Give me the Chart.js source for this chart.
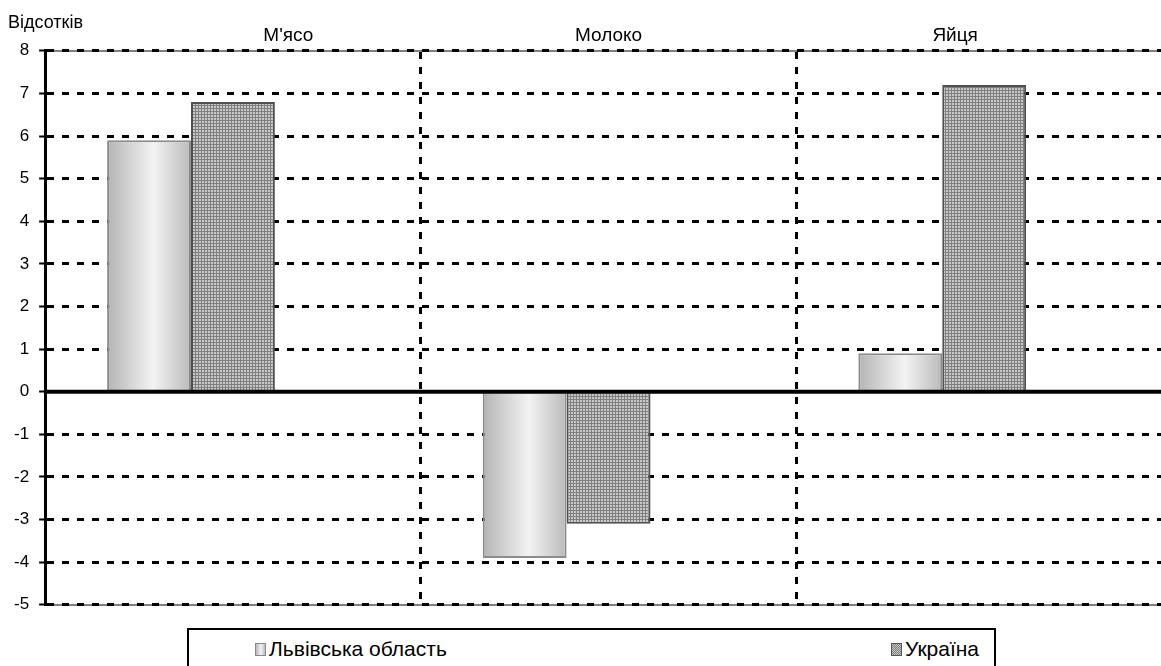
<!DOCTYPE html>
<html>
<head>
<meta charset="utf-8">
<script src="https://cdn.jsdelivr.net/npm/chart.js@4.4.0/dist/chart.umd.min.js"></script>
<style>
  body { margin: 0; overflow: hidden; background: #fff; font-family: Arial, 'Liberation Sans', sans-serif; }
  #contenitore { position: relative; width: 1180px; height: 666px; }
  #grafico { position: absolute; left: 0; top: 0; }
  #titoloY { position: absolute; left: 8px; top: 12px; font-size: 18px; color: #000; }
  #legenda { position: absolute; left: 187px; top: 628px; width: 809px; height: 50px; border: 2px solid #000; box-sizing: border-box; font-size: 21px; }
  .voce { position: absolute; top: 7px; display: flex; align-items: center; }
  .quadrato { width: 11px; height: 13px; margin-right: 3px; box-sizing: border-box; }
  #q1 { border: 1px solid #888; background: linear-gradient(to right, #b8b8b8, #f4f4f4 55%, #bcbcbc); }
  #q2 { border: 1px solid #555; background: repeating-conic-gradient(#808080 0 25%, #c6c6c6 0 50%) 0 0 / 2px 2px; }
</style>
</head>
<body>
<div id="contenitore">
  <canvas id="grafico" width="1180" height="625"></canvas>
  <div id="titoloY">Відсотків</div>
  <div id="legenda">
    <div class="voce" style="left:66px"><div class="quadrato" id="q1"></div>Львівська область</div>
    <div class="voce" style="left:702px"><div class="quadrato" id="q2"></div>Україна</div>
  </div>
</div>
<script>
// Dati del grafico
const categorie = ["М'ясо", "Молоко", "Яйця"];
const lvivska = [5.9, -3.9, 0.9];
const ukraina = [6.8, -3.1, 7.2];
// serie vuota: in originale occupa un posto nel gruppo
const vuota = [null, null, null];
const asseYMin = -5;
const asseYMax = 8;
const asseYPasso = 1;

// Spostamento delle etichette in alto (spazi prima / dopo), come nell'originale
const spaziPrima = [21, 0, 0];
const spaziDopo = [0, 0, 11];

// Trama a griglia per la serie Україна
const tessera = document.createElement('canvas');
tessera.width = 3; tessera.height = 3;
const tctx = tessera.getContext('2d');
tctx.fillStyle = '#c8c8c8'; tctx.fillRect(0, 0, 3, 3);
tctx.fillStyle = '#808080'; tctx.fillRect(0, 0, 3, 1); tctx.fillRect(0, 0, 1, 3);
const trama = tctx.createPattern(tessera, 'repeat');

// Sfumatura orizzontale per la serie Львівська область
function sfumatura(context) {
  const chart = context.chart;
  const el = chart.getDatasetMeta(context.datasetIndex).data[context.dataIndex];
  if (!el || el.width === undefined || isNaN(el.x)) return '#dddddd';
  const x0 = el.x - el.width / 2, x1 = el.x + el.width / 2;
  const g = chart.ctx.createLinearGradient(x0, 0, x1, 0);
  g.addColorStop(0, '#b4b4b4');
  g.addColorStop(0.55, '#f3f3f3');
  g.addColorStop(1, '#bababa');
  return g;
}

// Linea dello zero, spessa e continua
const lineaZero = {
  id: 'lineaZero',
  afterDatasetsDraw(chart) {
    const { ctx, chartArea, scales } = chart;
    const y0 = scales.y.getPixelForValue(0);
    ctx.save();
    ctx.strokeStyle = '#000';
    ctx.lineWidth = 4;
    ctx.beginPath();
    ctx.moveTo(chartArea.left, y0);
    ctx.lineTo(chartArea.right, y0);
    ctx.stroke();
    ctx.restore();
  }
};

const grafico = new Chart(document.getElementById('grafico'), {
  type: 'bar',
  data: {
    labels: categorie,
    datasets: [
      { label: 'Львівська область', data: lvivska, backgroundColor: sfumatura, borderColor: '#8c8c8c', borderWidth: 2 },
      { label: 'Україна', data: ukraina, backgroundColor: trama, borderColor: '#505050', borderWidth: 2 },
      { label: '', data: vuota }
    ]
  },
  options: {
    responsive: false,
    animation: false,
    events: [],
    layout: { padding: { left: 4, right: 8, top: 20, bottom: 0 } },
    datasets: { bar: { categoryPercentage: 0.67, barPercentage: 1 } },
    plugins: { legend: { display: false }, tooltip: { enabled: false } },
    scales: {
      x: {
        position: 'top',
        offset: true,
        grid: { offset: true, color: '#000', lineWidth: 3, drawTicks: false },
        border: { display: true, color: '#808080', width: 2, dash: [7, 8], z: -2 },
        ticks: {
          color: '#000',
          font: { family: 'Arial, "Liberation Sans"', size: 19 },
          padding: 4,
          callback: (v, i) => '\u00A0'.repeat(spaziPrima[i]) + categorie[i] + '\u00A0'.repeat(spaziDopo[i])
        }
      },
      x2: {
        position: 'bottom',
        labels: categorie,
        offset: true,
        grid: { display: false, drawTicks: false },
        border: { display: true, color: '#808080', width: 2, z: -2 },
        ticks: { display: false }
      },
      y: {
        min: asseYMin,
        max: asseYMax,
        ticks: { stepSize: asseYPasso, color: '#000', font: { family: 'Arial, "Liberation Sans"', size: 17 }, padding: 10 },
        grid: {
          color: (c) => (c.tick && c.tick.value === 0) ? 'rgba(0,0,0,0)' : '#000',
          lineWidth: 3,
          tickLength: 6,
          tickColor: '#000',
          tickWidth: 2,
          tickBorderDash: []
        },
        border: { display: true, color: '#000', width: 3, dash: [7, 8] }
      }
    }
  },
  plugins: [lineaZero]
});
// secondo passaggio per applicare la sfumatura alle posizioni reali delle barre
grafico.update();
</script>
</body>
</html>
